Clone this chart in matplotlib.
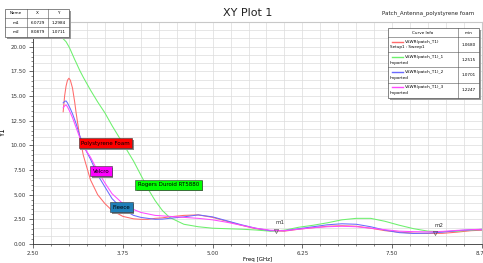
import matplotlib
matplotlib.use("Agg")
import matplotlib.pyplot as plt
import matplotlib.transforms as mtransforms
from matplotlib.patches import Rectangle
from matplotlib.lines import Line2D
from matplotlib.ticker import MultipleLocator, FormatStrFormatter
import numpy as np

# frequency points (GHz) shared by all curves
freq = [2.92, 2.94, 2.96, 2.98, 3.0, 3.02, 3.05, 3.08, 3.1, 3.15, 3.2, 3.3, 3.4, 3.5, 3.6,
        3.75, 3.9, 4.0, 4.1, 4.2, 4.3, 4.4, 4.6, 4.8, 5.0, 5.2, 5.4, 5.6, 5.8, 6.0, 6.2,
        6.4, 6.6, 6.8, 7.0, 7.2, 7.4, 7.6, 7.8, 8.0, 8.2, 8.4, 8.6, 8.75]

vswr_polystyrene = [13.4, 15.0, 16.0, 16.6, 16.8, 16.6, 15.8, 14.4, 13.3, 10.9, 9.0, 6.5, 5.0,
                    4.1, 3.4, 2.8, 2.55, 2.5, 2.5, 2.6, 2.65, 2.75, 2.9, 2.95, 2.7, 2.3, 1.9,
                    1.55, 1.35, 1.3, 1.5, 1.65, 1.8, 1.85, 1.8, 1.6, 1.35, 1.2, 1.1, 1.07, 1.08,
                    1.2, 1.35, 1.4]
vswr_rogers = [20.8, 20.65, 20.5, 20.25, 20.0, 19.7, 19.2, 18.7, 18.4, 17.6, 16.9, 15.6, 14.4,
               13.3, 12.0, 10.2, 8.4, 7.0, 5.6, 4.4, 3.4, 2.7, 2.0, 1.75, 1.6, 1.55, 1.5, 1.42,
               1.3, 1.4, 1.7, 1.9, 2.15, 2.45, 2.6, 2.6, 2.3, 1.9, 1.55, 1.3, 1.25, 1.3, 1.4, 1.5]
vswr_fleece = [14.3, 14.45, 14.5, 14.3, 14.0, 13.7, 13.2, 12.6, 12.2, 11.0, 10.0, 8.6, 7.0, 5.8,
               4.6, 3.5, 2.9, 2.7, 2.6, 2.5, 2.52, 2.6, 2.75, 2.95, 2.75, 2.35, 1.95, 1.6, 1.35,
               1.35, 1.55, 1.75, 1.95, 2.05, 2.0, 1.75, 1.4, 1.15, 1.07, 1.1, 1.2, 1.35, 1.45, 1.45]
vswr_velcro = [13.8, 14.0, 14.1, 13.9, 13.6, 13.3, 12.8, 12.2, 11.8, 10.8, 9.9, 8.8, 7.4, 6.2,
               5.1, 4.1, 3.5, 3.2, 3.05, 2.9, 2.85, 2.8, 2.7, 2.6, 2.45, 2.2, 1.9, 1.6, 1.4,
               1.35, 1.5, 1.65, 1.75, 1.8, 1.75, 1.6, 1.45, 1.3, 1.25, 1.23, 1.28, 1.38, 1.45, 1.5]

curve_names = ["VSWR(patch_T1)", "VSWR(patch_T1)_1", "VSWR(patch_T1)_2", "VSWR(patch_T1)_3"]
curve_sub = ["Setup1 : Sweep1", "Imported", "Imported", "Imported"]
curve_min = ["1.0680", "1.2515", "1.0701", "1.2247"]
curve_colors = ["#ff6a6a", "#6cf06c", "#6a6aff", "#ff4aff"]

label_text = ["Polystyrene Foam", "Velcro", "Rogers Duroid RT5880", "Fleece"]
label_colors = ["#ff0000", "#ff00ff", "#00ff00", "#1f7fb8"]

markers = ["m1", "m2"]
marker_x = [5.88, 8.09]
marker_y = [1.3, 1.07]
marker_table_x = ["6.0729", "8.0879"]
marker_table_y = ["1.2984", "1.0711"]

W, H = 483, 263
fig = plt.figure(figsize=(W / 100, H / 100), dpi=100)
ax = fig.add_axes([33 / W, 19 / H, (482 - 33) / W, (244 - 22) / H])

series = [vswr_polystyrene, vswr_rogers, vswr_fleece, vswr_velcro]
for vals, col in zip(series, curve_colors):
    ax.plot(freq, vals, color=col, lw=0.75, zorder=3)

ax.set_xlim(2.5, 8.75)
ax.set_ylim(0, 22.5)
ax.xaxis.set_major_locator(MultipleLocator(1.25))
ax.xaxis.set_minor_locator(MultipleLocator(0.25))
ax.set_yticks(np.arange(0, 20.1, 2.5))
ax.yaxis.set_minor_locator(MultipleLocator(0.5))
ax.xaxis.set_major_formatter(FormatStrFormatter("%.2f"))
ax.yaxis.set_major_formatter(FormatStrFormatter("%.2f"))
ax.tick_params(which="major", direction="out", length=3, width=0.5, labelsize=4, pad=2,
               colors="#333333")
ax.tick_params(which="minor", direction="out", length=1.5, width=0.4, colors="#333333")
ax.grid(which="both", axis="x", color="#dcdcdc", lw=0.5)
for gy in np.arange(0, 22.5, 2.5 / 3):
    ax.axhline(gy, color="#dcdcdc", lw=0.5, zorder=0)
for s in ["top", "right"]:
    ax.spines[s].set_color("#c8c8c8")
for s in ["left", "bottom"]:
    ax.spines[s].set_color("#333333")
    ax.spines[s].set_linewidth(0.6)
ax.set_xlabel("Freq [GHz]", fontsize=4, labelpad=1)
ax.set_ylabel("Y1", fontsize=5, labelpad=3)

# curve labels with shadow
label_x = [3.17, 3.33, 3.96, 3.61]
label_y = [10.2, 7.37, 6.0, 3.7]
shadow = mtransforms.offset_copy(ax.transData, fig=fig, x=1.5, y=-1.5, units="dots")
for t, c, lx, ly in zip(label_text, label_colors, label_x, label_y):
    ax.text(lx, ly, t, transform=shadow, fontsize=4, ha="left", va="center", color="none",
            bbox=dict(boxstyle="square,pad=0.45", fc="#888888", ec="none"), zorder=5)
    ax.text(lx, ly, t, fontsize=4, ha="left", va="center", color="black",
            bbox=dict(boxstyle="square,pad=0.45", fc=c, ec="#333333", lw=0.4), zorder=6)

# markers
for m, mx, my in zip(markers, marker_x, marker_y):
    ax.plot(mx, my, marker="v", ms=3, mfc="none", mec="#444444", mew=0.4, zorder=7)
    ax.text(mx, my + 0.6, m, fontsize=4, ha="left", va="bottom", color="#333333", zorder=7)


def px_rect(x0, y0, x1, y1, **kw):
    r = Rectangle((x0 / W, 1 - y1 / H), (x1 - x0) / W, (y1 - y0) / H,
                  transform=fig.transFigure, **kw)
    fig.add_artist(r)


def px_line(x0, y0, x1, y1, **kw):
    fig.add_artist(Line2D([x0 / W, x1 / W], [1 - y0 / H, 1 - y1 / H],
                          transform=fig.transFigure, **kw))


def px_text(x, y, s, **kw):
    fig.text(x / W, 1 - y / H, s, **kw)


# marker table top-left
px_rect(7, 11, 71, 39, fc="#9a9a9a", ec="none")
px_rect(5, 9, 69, 37, fc="white", ec="#555555", lw=0.5)
for yy in [18, 27]:
    px_line(5, yy, 69, yy, color="#555555", lw=0.4)
for xx in [27, 48]:
    px_line(xx, 9, xx, 37, color="#555555", lw=0.4)
px_text(16, 13.5, "Name", fontsize=3, ha="center", va="center")
px_text(37.5, 13.5, "X", fontsize=3, ha="center", va="center")
px_text(58.5, 13.5, "Y", fontsize=3, ha="center", va="center")
for i, m in enumerate(markers):
    yy = 22.5 + 9.5 * i
    px_text(16, yy, m, fontsize=3, ha="center", va="center")
    px_text(37.5, yy, marker_table_x[i], fontsize=3, ha="center", va="center")
    px_text(58.5, yy, marker_table_y[i], fontsize=3, ha="center", va="center")

# curve info legend
px_rect(390, 30, 481, 100, fc="#9a9a9a", ec="none")
px_rect(388, 28, 479, 98, fc="white", ec="#555555", lw=0.5)
px_line(458, 28, 458, 98, color="#555555", lw=0.4)
px_line(388, 37, 479, 37, color="#555555", lw=0.4)
px_text(423, 32.5, "Curve Info", fontsize=3, ha="center", va="center")
px_text(468.5, 32.5, "min", fontsize=3, ha="center", va="center")
for i in range(4):
    top = 37 + 15.25 * i
    if i > 0:
        px_line(388, top, 479, top, color="#555555", lw=0.4)
    px_line(392, top + 4.5, 403, top + 4.5, color=curve_colors[i], lw=1.0)
    px_text(405, top + 4.5, curve_names[i], fontsize=3, ha="left", va="center")
    px_text(390, top + 10.5, curve_sub[i], fontsize=3, ha="left", va="center")
    px_text(468.5, top + 7.5, curve_min[i], fontsize=3, ha="center", va="center")

fig.text(248 / W, 1 - 13 / H, "XY Plot 1", fontsize=8, ha="center", va="center", color="#222222")
fig.text(382 / W, 1 - 13 / H, "Patch_Antenna_polystyrene foam", fontsize=4.0, ha="left",
         va="center", color="#222222")

fig.savefig("out.png", dpi=100)
